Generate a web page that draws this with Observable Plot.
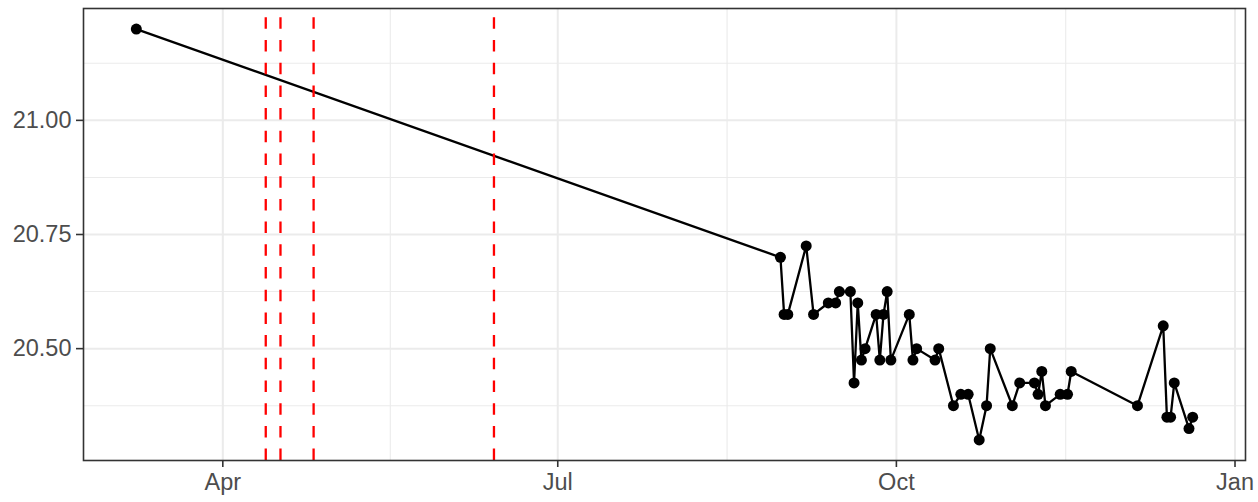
<!DOCTYPE html>
<html>
<head>
<meta charset="utf-8">
<script src="https://cdn.jsdelivr.net/npm/d3@7"></script>
<script src="https://cdn.jsdelivr.net/npm/@observablehq/plot@0.6"></script>
<style>
  html, body { margin: 0; padding: 0; background: white; }
</style>
</head>
<body>
<div id="chart"></div>
<script>
// ---- data (timestamps at midday) ----
const dates = [
  "2021-03-08T12:00",
  "2021-08-30T12:00", "2021-08-31T12:00", "2021-09-01T12:00", "2021-09-06T12:00", "2021-09-08T12:00",
  "2021-09-12T12:00", "2021-09-14T12:00", "2021-09-15T12:00", "2021-09-18T12:00", "2021-09-19T12:00",
  "2021-09-20T12:00", "2021-09-21T12:00", "2021-09-22T12:00", "2021-09-25T12:00", "2021-09-26T12:00",
  "2021-09-27T12:00", "2021-09-28T12:00", "2021-09-29T12:00", "2021-10-04T12:00", "2021-10-05T12:00",
  "2021-10-06T12:00", "2021-10-11T12:00", "2021-10-12T12:00", "2021-10-16T12:00", "2021-10-18T12:00",
  "2021-10-20T12:00", "2021-10-23T12:00", "2021-10-25T12:00", "2021-10-26T12:00", "2021-11-01T12:00",
  "2021-11-03T12:00", "2021-11-07T12:00", "2021-11-08T12:00", "2021-11-09T12:00", "2021-11-10T12:00",
  "2021-11-14T12:00", "2021-11-16T12:00", "2021-11-17T12:00", "2021-12-05T12:00", "2021-12-12T12:00",
  "2021-12-13T12:00", "2021-12-14T12:00", "2021-12-15T12:00", "2021-12-19T12:00", "2021-12-20T12:00"
];
const values = [
  21.2,
  20.7, 20.575, 20.575, 20.725, 20.575,
  20.6, 20.6, 20.625, 20.625, 20.425,
  20.6, 20.475, 20.5, 20.575, 20.475,
  20.575, 20.625, 20.475, 20.575, 20.475,
  20.5, 20.475, 20.5, 20.375, 20.4,
  20.4, 20.3, 20.375, 20.5, 20.375,
  20.425, 20.425, 20.4, 20.45, 20.375,
  20.4, 20.4, 20.45, 20.375, 20.55,
  20.35, 20.35, 20.425, 20.325, 20.35
];
const eventDates = ["2021-04-12T16:00", "2021-04-16T16:00", "2021-04-25T16:00", "2021-06-13T16:00"];
const xTickDates = ["2021-04-01T00:00", "2021-07-01T00:00", "2021-10-01T00:00", "2022-01-01T00:00"];
const xTickLabels = ["Apr", "Jul", "Oct", "Jan"];
const yTickValues = [20.5, 20.75, 21.0];
const yTickLabels = ["20.50", "20.75", "21.00"];
const yMinorValues = [20.375, 20.625, 20.875, 21.125];

// ---- build tables ----
const parse = d3.utcParse("%Y-%m-%dT%H:%M");
const data = dates.map((d, i) => ({date: parse(d), value: values[i]}));
const events = eventDates.map(parse);
const xTicks = xTickDates.map(parse);
const xMinor = d3.pairs(xTicks).map(([a, b]) => new Date((+a + +b) / 2));
const xLabelMap = new Map(xTicks.map((d, i) => [+d, xTickLabels[i]]));
const yLabelMap = new Map(yTickValues.map((v, i) => [v, yTickLabels[i]]));

// ggplot-style 5% expansion
const xExt = d3.extent(data, d => +d.date);
const xPad = (xExt[1] - xExt[0]) * 0.05;
const xDomain = [new Date(xExt[0] - xPad), new Date(xExt[1] + xPad)];
const yExt = d3.extent(values);
const yPad = (yExt[1] - yExt[0]) * 0.05;
const yDomain = [yExt[0] - yPad, yExt[1] + yPad];

const grid = "#EBEBEB";

const chart = Plot.plot({
  width: 1258,
  height: 502,
  marginLeft: 83,
  marginRight: 13,
  marginTop: 8,
  marginBottom: 42,
  style: {fontFamily: "'Liberation Sans', Arial, sans-serif", fontSize: "23.5px", background: "white", color: "#4D4D4D"},
  x: {type: "utc", domain: xDomain, label: null},
  y: {domain: yDomain, label: null},
  marks: [
    Plot.ruleY(yMinorValues, {stroke: grid, strokeWidth: 1.1}),
    Plot.ruleX(xMinor, {stroke: grid, strokeWidth: 1.1}),
    Plot.ruleY(yTickValues, {stroke: grid, strokeWidth: 2}),
    Plot.ruleX(xTicks, {stroke: grid, strokeWidth: 2}),
    Plot.line(data, {x: "date", y: "value", stroke: "black", strokeWidth: 2.3}),
    Plot.dot(data, {x: "date", y: "value", r: 5.5, fill: "black", stroke: "none"}),
    Plot.ruleX(events, {stroke: "#FF0000", strokeWidth: 2.3, strokeDasharray: "11.5,11.2", strokeDashoffset: 13.4}),
    Plot.frame({stroke: "#333333", strokeWidth: 1.6}),
    Plot.axisX(xTicks, {
      tickFormat: d => xLabelMap.get(+d),
      tickSize: 7, tickPadding: 6, label: null,
      color: "#4D4D4D", stroke: "#333333", strokeWidth: 1.6
    }),
    Plot.axisY(yTickValues, {
      tickFormat: d => yLabelMap.get(d),
      tickSize: 7, tickPadding: 5, label: null,
      color: "#4D4D4D", stroke: "#333333", strokeWidth: 1.6
    })
  ]
});
document.getElementById("chart").appendChild(chart);
</script>
</body>
</html>
